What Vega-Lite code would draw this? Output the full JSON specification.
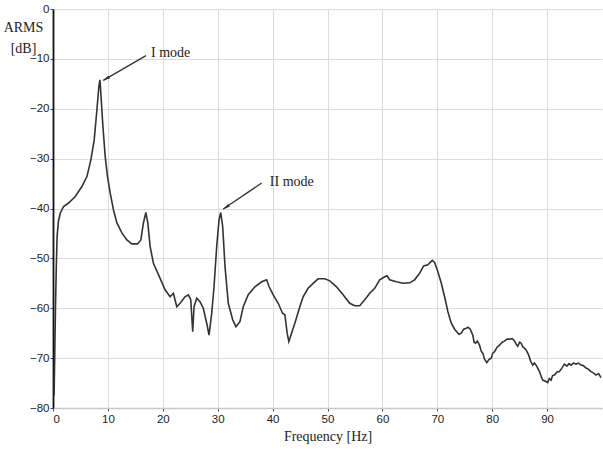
{
  "$schema": "https://vega.github.io/schema/vega-lite/v6.json",
  "width": 549,
  "height": 399,
  "autosize": {"type": "none"},
  "padding": {"left": 53, "top": 9, "right": 1, "bottom": 42},
  "background": "white",
  "config": {
    "view": {"stroke": null},
    "axis": {
      "labelFont": "Liberation Sans",
      "labelFontSize": 11.5,
      "labelColor": "#222",
      "gridColor": "#dcdcdc",
      "gridWidth": 1,
      "tickColor": "#444",
      "tickSize": 3,
      "titleFont": "Liberation Serif",
      "titleFontWeight": "normal",
      "titleColor": "#222"
    }
  },
  "datasets": {
    "spectrum": [
      {"f": 0.2, "db": -77.5}, {"f": 0.45, "db": -60}, {"f": 0.6, "db": -51.7}, {"f": 0.75, "db": -45.5},
      {"f": 1.0, "db": -42.5}, {"f": 1.33, "db": -40.9}, {"f": 1.93, "db": -39.6}, {"f": 2.84, "db": -38.9},
      {"f": 4.05, "db": -37.6}, {"f": 5.27, "db": -35.6}, {"f": 6.18, "db": -33.6}, {"f": 6.91, "db": -30.2},
      {"f": 7.51, "db": -26.2}, {"f": 8.0, "db": -20.2}, {"f": 8.36, "db": -15.5}, {"f": 8.55, "db": -14.2},
      {"f": 8.75, "db": -17.5}, {"f": 9.09, "db": -23.5}, {"f": 9.51, "db": -29.6}, {"f": 9.93, "db": -33.6},
      {"f": 10.42, "db": -36.9}, {"f": 11.02, "db": -40.3}, {"f": 11.64, "db": -42.9}, {"f": 12.55, "db": -44.9},
      {"f": 13.45, "db": -46.3}, {"f": 14.36, "db": -47.1}, {"f": 15.38, "db": -47.1}, {"f": 16.0, "db": -46.3},
      {"f": 16.47, "db": -42.9}, {"f": 16.91, "db": -40.8}, {"f": 17.27, "db": -42.9}, {"f": 17.69, "db": -47.6},
      {"f": 18.29, "db": -51.0}, {"f": 19.51, "db": -54.0}, {"f": 20.42, "db": -56.3}, {"f": 21.33, "db": -57.7},
      {"f": 21.93, "db": -57.0}, {"f": 22.55, "db": -59.7}, {"f": 23.15, "db": -59.0}, {"f": 24.05, "db": -57.7},
      {"f": 24.65, "db": -57.3}, {"f": 25.09, "db": -58.3}, {"f": 25.45, "db": -64.7}, {"f": 25.69, "db": -59.7},
      {"f": 26.18, "db": -58.0}, {"f": 26.78, "db": -58.7}, {"f": 27.38, "db": -60.0}, {"f": 28.0, "db": -63.0},
      {"f": 28.42, "db": -65.4}, {"f": 28.91, "db": -61.0}, {"f": 29.33, "db": -55.7}, {"f": 29.82, "db": -47.6},
      {"f": 30.24, "db": -42.3}, {"f": 30.55, "db": -40.8}, {"f": 30.91, "db": -43.6}, {"f": 31.33, "db": -51.6},
      {"f": 31.93, "db": -59.0}, {"f": 32.73, "db": -62.3}, {"f": 33.33, "db": -63.7}, {"f": 34.05, "db": -62.7},
      {"f": 34.65, "db": -59.7}, {"f": 35.56, "db": -57.3}, {"f": 36.78, "db": -55.7}, {"f": 38.0, "db": -54.7},
      {"f": 38.91, "db": -54.3}, {"f": 39.38, "db": -55.7}, {"f": 40.11, "db": -57.3}, {"f": 41.02, "db": -59.0},
      {"f": 41.82, "db": -61.0}, {"f": 42.24, "db": -61.3}, {"f": 42.65, "db": -65.0}, {"f": 42.96, "db": -66.7},
      {"f": 43.45, "db": -65.0}, {"f": 44.05, "db": -63.0}, {"f": 44.96, "db": -59.7}, {"f": 45.56, "db": -57.7},
      {"f": 46.47, "db": -56.0}, {"f": 47.38, "db": -55.0}, {"f": 48.29, "db": -54.1}, {"f": 49.51, "db": -54.1},
      {"f": 50.42, "db": -54.5}, {"f": 51.64, "db": -55.7}, {"f": 52.84, "db": -57.3}, {"f": 54.05, "db": -59.0},
      {"f": 54.96, "db": -59.5}, {"f": 55.87, "db": -59.5}, {"f": 56.78, "db": -58.3}, {"f": 57.69, "db": -57.0},
      {"f": 58.6, "db": -56.0}, {"f": 59.51, "db": -54.3}, {"f": 60.42, "db": -53.7}, {"f": 60.84, "db": -53.5},
      {"f": 61.33, "db": -54.3}, {"f": 62.55, "db": -54.7}, {"f": 63.75, "db": -55.0}, {"f": 64.96, "db": -54.9},
      {"f": 65.87, "db": -54.3}, {"f": 66.78, "db": -53.0}, {"f": 67.51, "db": -51.5}, {"f": 68.29, "db": -51.3},
      {"f": 68.73, "db": -50.8}, {"f": 69.09, "db": -50.4}, {"f": 69.51, "db": -50.8}, {"f": 70.11, "db": -52.7},
      {"f": 70.73, "db": -55.0}, {"f": 71.33, "db": -57.7}, {"f": 71.93, "db": -60.7}, {"f": 72.55, "db": -63.0},
      {"f": 73.15, "db": -64.2}, {"f": 73.93, "db": -65.2}, {"f": 74.36, "db": -65.0}, {"f": 74.8, "db": -64.2},
      {"f": 75.27, "db": -64.0}, {"f": 75.6, "db": -63.8}, {"f": 76.0, "db": -64.2}, {"f": 76.47, "db": -65.4},
      {"f": 76.7, "db": -66.8}, {"f": 76.96, "db": -67.0}, {"f": 77.3, "db": -66.6}, {"f": 77.69, "db": -67.4},
      {"f": 78.0, "db": -68.6}, {"f": 78.29, "db": -69.0}, {"f": 78.6, "db": -70.2}, {"f": 79.02, "db": -70.9},
      {"f": 79.4, "db": -70.3}, {"f": 79.82, "db": -70.0}, {"f": 80.1, "db": -69.0}, {"f": 80.42, "db": -68.7},
      {"f": 80.9, "db": -67.8}, {"f": 81.33, "db": -67.4}, {"f": 81.8, "db": -66.8}, {"f": 82.24, "db": -66.6},
      {"f": 82.7, "db": -66.2}, {"f": 83.15, "db": -66.2}, {"f": 83.6, "db": -66.1}, {"f": 84.05, "db": -66.5},
      {"f": 84.35, "db": -67.2}, {"f": 84.65, "db": -67.6}, {"f": 85.0, "db": -66.8}, {"f": 85.27, "db": -67.0},
      {"f": 85.6, "db": -67.8}, {"f": 85.87, "db": -68.0}, {"f": 86.2, "db": -68.4}, {"f": 86.65, "db": -69.4},
      {"f": 87.0, "db": -70.6}, {"f": 87.38, "db": -71.4}, {"f": 87.7, "db": -71.0}, {"f": 88.11, "db": -71.6},
      {"f": 88.6, "db": -72.7}, {"f": 88.9, "db": -73.6}, {"f": 89.2, "db": -74.4}, {"f": 89.6, "db": -74.6},
      {"f": 90.11, "db": -74.9}, {"f": 90.4, "db": -74.1}, {"f": 90.73, "db": -74.4}, {"f": 91.0, "db": -73.5},
      {"f": 91.33, "db": -73.4}, {"f": 91.8, "db": -72.8}, {"f": 92.24, "db": -72.7}, {"f": 92.7, "db": -72.0},
      {"f": 93.15, "db": -71.2}, {"f": 93.6, "db": -71.6}, {"f": 94.0, "db": -71.1}, {"f": 94.36, "db": -71.4},
      {"f": 94.8, "db": -71.0}, {"f": 95.27, "db": -71.2}, {"f": 95.7, "db": -71.0}, {"f": 96.18, "db": -71.4},
      {"f": 96.6, "db": -71.5}, {"f": 97.09, "db": -72.0}, {"f": 97.5, "db": -72.2}, {"f": 98.0, "db": -72.7},
      {"f": 98.5, "db": -73.0}, {"f": 98.91, "db": -73.4}, {"f": 99.38, "db": -73.1}, {"f": 99.82, "db": -73.9}
    ],
    "notes": [
      {"label": "I mode", "tx": 17.85, "ty": -8.8, "x1": 16.94, "y1": -9.34, "x2": 9.16, "y2": -14.3, "hx": 9.64, "hy": -14.0},
      {"label": "II mode", "tx": 39.5, "ty": -34.6, "x1": 38.0, "y1": -34.9, "x2": 31.0, "y2": -40.1, "hx": 31.47, "hy": -39.8}
    ]
  },
  "encoding": {
    "x": {
      "type": "quantitative",
      "scale": {"domain": [0, 100], "nice": false, "zero": false},
      "axis": {
        "values": [0, 10, 20, 30, 40, 50, 60, 70, 80, 90],
        "title": "Frequency [Hz]",
        "titleFontSize": 14,
        "titlePadding": 5,
        "domainColor": "#c8c8c8",
        "domainWidth": 1.5,
        "labelPadding": 2
      }
    },
    "y": {
      "type": "quantitative",
      "scale": {"domain": [-80, 0], "nice": false, "zero": false},
      "axis": {
        "values": [-80, -70, -60, -50, -40, -30, -20, -10, 0],
        "title": ["ARMS", "[dB]"],
        "titleAngle": 0,
        "titleAlign": "center",
        "titleBaseline": "middle",
        "titleX": -30,
        "titleY": 18,
        "titleFontSize": 14,
        "titleLineHeight": 21,
        "domainColor": "#111",
        "domainWidth": 1.8,
        "labelPadding": 1
      }
    }
  },
  "layer": [
    {
      "data": {"name": "spectrum"},
      "mark": {"type": "line", "color": "#333", "strokeWidth": 1.6, "clip": true},
      "encoding": {
        "x": {"field": "f"},
        "y": {"field": "db"}
      }
    },
    {
      "data": {"name": "notes"},
      "mark": {"type": "rule", "color": "#333", "strokeWidth": 1.3},
      "encoding": {
        "x": {"field": "x1"},
        "y": {"field": "y1"},
        "x2": {"field": "x2"},
        "y2": {"field": "y2"}
      }
    },
    {
      "data": {"name": "notes"},
      "transform": [{"filter": "datum.label == 'I mode'"}],
      "mark": {"type": "point", "shape": "M0,-1L0.4,1L-0.4,1Z", "filled": true, "color": "#333", "size": 60, "angle": 240, "opacity": 1},
      "encoding": {
        "x": {"field": "hx"},
        "y": {"field": "hy"}
      }
    },
    {
      "data": {"name": "notes"},
      "transform": [{"filter": "datum.label == 'II mode'"}],
      "mark": {"type": "point", "shape": "M0,-1L0.4,1L-0.4,1Z", "filled": true, "color": "#333", "size": 60, "angle": 236, "opacity": 1},
      "encoding": {
        "x": {"field": "hx"},
        "y": {"field": "hy"}
      }
    },
    {
      "data": {"name": "notes"},
      "mark": {"type": "text", "font": "Liberation Serif", "fontSize": 14, "align": "left", "baseline": "middle", "color": "#222"},
      "encoding": {
        "x": {"field": "tx"},
        "y": {"field": "ty"},
        "text": {"field": "label"}
      }
    }
  ]
}
